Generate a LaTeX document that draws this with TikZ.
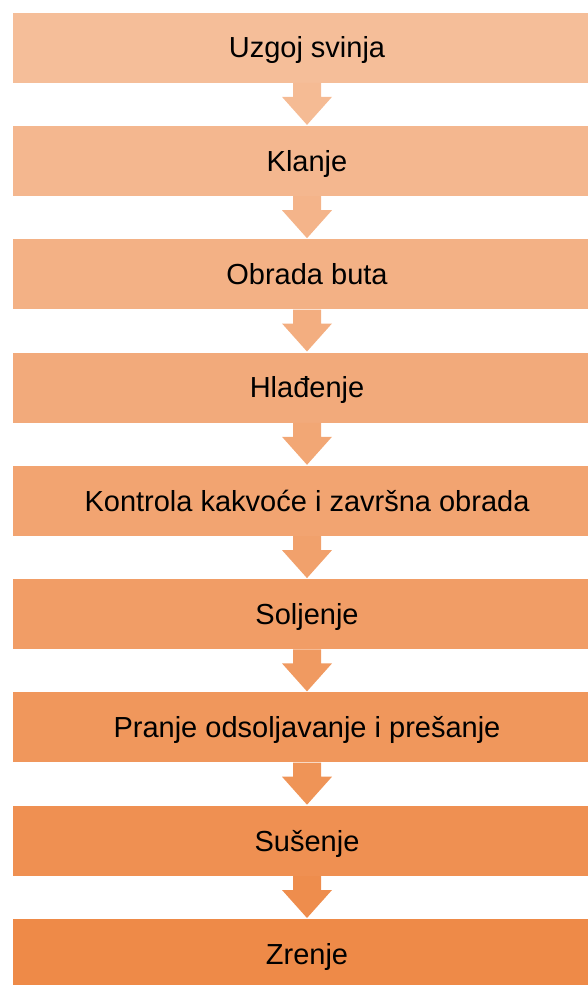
\documentclass[tikz,border=0pt]{standalone}
\usepackage{fontspec}
\setmainfont{Liberation Sans}
\definecolor{cTop}{RGB}{245,190,153}
\definecolor{cBot}{RGB}{238,138,72}
\newcommand{\flowarrow}[3]{%
	\fill[#3] (#2.north) -- ++(-25,-28) -- ++(11,0) -- ++(0,-14) -- ++(28,0) -- ++(0,14) -- ++(11,0) -- cycle;}
\begin{document}
\begin{tikzpicture}[x=1pt, y=-1pt,
	box/.style={draw=white, line width=.8pt, minimum width=590pt, minimum height=71pt, inner sep=0pt,
		text height=20.8pt, text depth=0pt, font=\fontsize{29}{33}\selectfont, text=black}]
	\useasboundingbox (0,0) rectangle (588,985);
	\node[box, fill=cBot!0!cTop]    (uzgoj)    at (307,47.5)  {Uzgoj svinja};
	\node[box, fill=cBot!12.5!cTop] (klanje)   at (307,160.8) {Klanje};
	\node[box, fill=cBot!25!cTop]   (obrada)   at (307,274.1) {Obrada buta};
	\node[box, fill=cBot!37.5!cTop] (hladenje) at (307,387.4) {Hlađenje};
	\node[box, fill=cBot!50!cTop]   (kontrola) at (307,500.7) {Kontrola kakvoće i završna obrada};
	\node[box, fill=cBot!62.5!cTop] (soljenje) at (307,614.0) {Soljenje};
	\node[box, fill=cBot!75!cTop]   (pranje)   at (307,727.3) {Pranje odsoljavanje i prešanje};
	\node[box, fill=cBot!87.5!cTop] (susenje)  at (307,840.6) {Sušenje};
	\node[box, fill=cBot!100!cTop]  (zrenje)   at (307,953.9) {Zrenje};
	% strelice
	\flowarrow{uzgoj}{klanje}{cBot!6!cTop}
	\flowarrow{klanje}{obrada}{cBot!19!cTop}
	\flowarrow{obrada}{hladenje}{cBot!31!cTop}
	\flowarrow{hladenje}{kontrola}{cBot!44!cTop}
	\flowarrow{kontrola}{soljenje}{cBot!56!cTop}
	\flowarrow{soljenje}{pranje}{cBot!69!cTop}
	\flowarrow{pranje}{susenje}{cBot!81!cTop}
	\flowarrow{susenje}{zrenje}{cBot!94!cTop}
\end{tikzpicture}
\end{document}
